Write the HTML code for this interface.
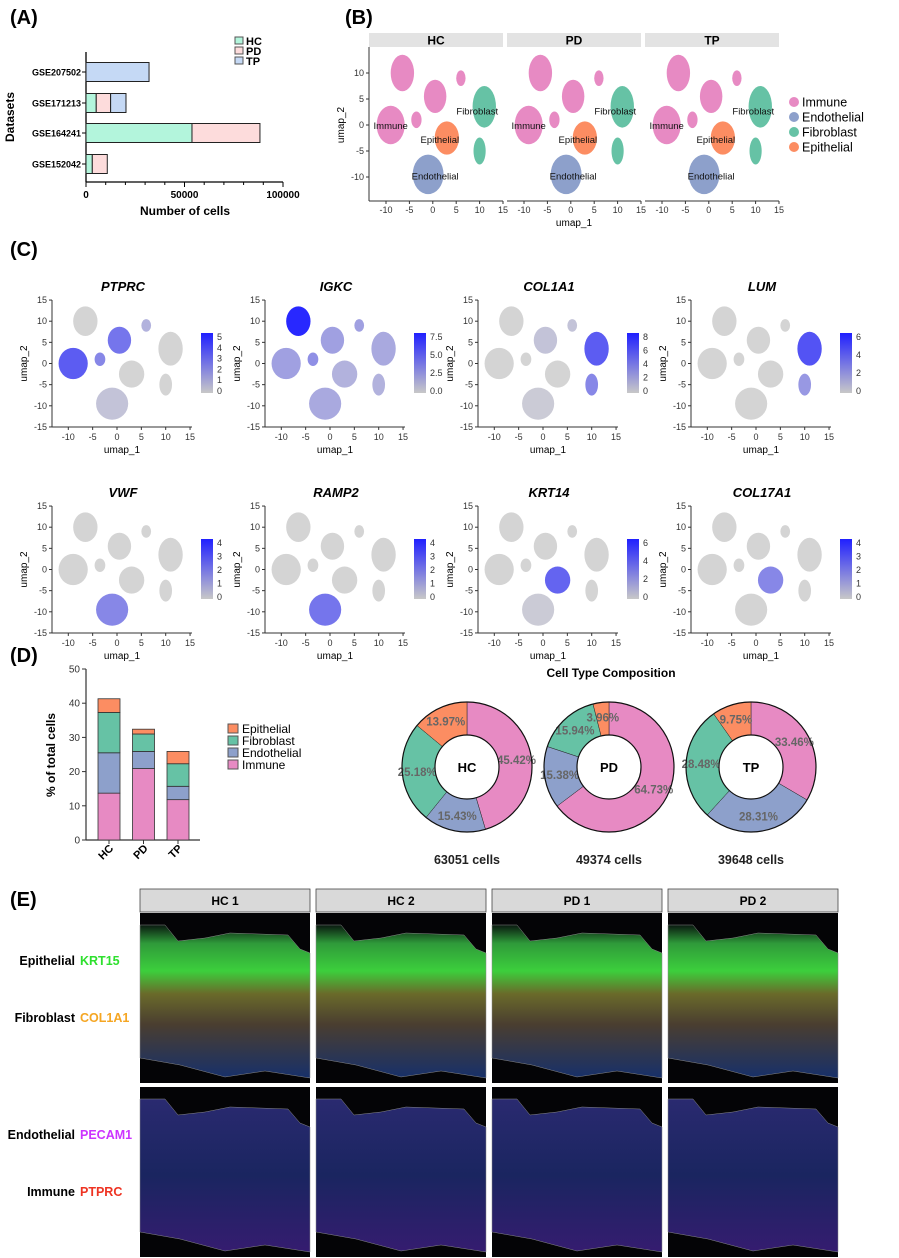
<!DOCTYPE html>
<html><head><meta charset="utf-8">
<style>
body{margin:0;background:#fff;}
svg{display:block;font-family:"Liberation Sans",Arial,sans-serif;}
</style></head>
<body>
<svg id="fig" width="899" height="1258" viewBox="0 0 899 1258" xmlns="http://www.w3.org/2000/svg">
<defs>
<linearGradient id="gTop" x1="0" y1="0" x2="0" y2="1">
<stop offset="0" stop-color="#0a1a10"/><stop offset="0.12" stop-color="#2f9a3a"/><stop offset="0.3" stop-color="#3ccf3c"/><stop offset="0.45" stop-color="#6a6a2a"/><stop offset="0.65" stop-color="#4a3e30"/><stop offset="1" stop-color="#17306a"/></linearGradient>
<linearGradient id="gBot" x1="0" y1="0" x2="0" y2="1">
<stop offset="0" stop-color="#2a2a70"/><stop offset="0.5" stop-color="#1a2560"/><stop offset="1" stop-color="#351c70"/></linearGradient>
</defs>
<g id="panelA"></g>
<g id="panelB"></g>
<g id="panelC"></g>
<g id="panelD"></g>
<g id="panelE"></g>
</svg>
<script>
// ---------- Panel A data ----------
const aDatasets = ["GSE207502","GSE171213","GSE164241","GSE152042"];
const aHC = [0, 5200, 53800, 3200];
const aPD = [0, 7300, 34500, 7600];
const aTP = [32000, 7800, 0, 0];
const aTicks = [0, 50000, 100000];
// ---------- Panel B/C cluster data (umap coords) ----------
const clusterX = [-6.5, -9, 0.5, 6, -3.5, 11, 10, 3, -1];
const clusterY = [10, 0, 5.5, 9, 1, 3.5, -5, -2.5, -9.5];
const clusterRX = [2.5, 3, 2.4, 1, 1.1, 2.5, 1.3, 2.6, 3.3];
const clusterRY = [3.5, 3.7, 3.2, 1.5, 1.6, 4, 2.6, 3.2, 3.8];
const clusterType = [0, 0, 0, 0, 0, 2, 2, 3, 1];
const typeNames = ["Immune","Endothelial","Fibroblast","Epithelial"];
const bFacets = ["HC","PD","TP"];
const bXTicks = [-10,-5,0,5,10,15];
const bYTicks = [-10,-5,0,5,10];
// ---------- Panel C data ----------
const genes = ["PTPRC","IGKC","COL1A1","LUM","VWF","RAMP2","KRT14","COL17A1"];
const geneExpr = [
 [0,0.7,0.55,0.2,0.45,0,0,0,0.1],
 [1,0.3,0.3,0.3,0.4,0.25,0.2,0.2,0.25],
 [0,0,0.1,0.1,0,0.7,0.45,0,0.05],
 [0,0,0,0,0,0.75,0.35,0,0],
 [0,0,0,0,0,0,0,0,0.45],
 [0,0,0,0,0,0,0,0,0.55],
 [0,0,0,0,0,0,0,0.65,0.05],
 [0,0,0,0,0,0,0,0.45,0]];
const geneScaleTicks = [
 ["0","1","2","3","4","5"],["0.0","2.5","5.0","7.5"],["0","2","4","6","8"],["0","2","4","6"],
 ["0","1","2","3","4"],["0","1","2","3","4"],["0","2","4","6"],["0","1","2","3","4"]];
const cXTicks = [-10,-5,0,5,10,15];
const cYTicks = [-15,-10,-5,0,5,10,15];
// ---------- Panel D data ----------
const dGroups = ["HC","PD","TP"];
const dImmune = [13.7, 20.9, 11.8];
const dEndo = [11.8, 5.0, 3.9];
const dFib = [11.8, 5.1, 6.6];
const dEpi = [4.0, 1.4, 3.6];
const dYTicks = [0,10,20,30,40,50];
const pieImmune = [45.42, 64.73, 33.46];
const pieEndo = [15.43, 15.38, 28.31];
const pieFib = [25.18, 15.94, 28.48];
const pieEpi = [13.97, 3.96, 9.75];
const pieCells = ["63051 cells","49374  cells","39648  cells"];
// ---------- Panel E ----------
const eSamples = ["HC 1","HC 2","PD 1","PD 2"];

const NS="http://www.w3.org/2000/svg";
const typeColors = ["#e78ac3","#8da0cb","#66c2a5","#fc8d62"];
function mk(tag, attrs, parent, text){
  const e=document.createElementNS(NS,tag);
  for(const k in attrs) e.setAttribute(k,attrs[k]);
  if(text!==undefined) e.textContent=text;
  parent.appendChild(e); return e;
}

// ===== Panel A =====
(function(){
  const g=document.getElementById('panelA');
  const t=mk('text',{x:10,y:24,'font-size':20,'font-weight':'bold'},g,'(A)');
   
  const x0=86, x1=283, xs=v=>x0+(v/100000)*(x1-x0);
  const rowY=[72,103,133,164];
  mk('line',{x1:x0,y1:52,x2:x0,y2:182,stroke:'#000','stroke-width':1.3},g);
  mk('line',{x1:x0,y1:182,x2:x1,y2:182,stroke:'#000','stroke-width':1.3},g);
  for(let i=0;i<=10;i++){const v=i*10000;mk('line',{x1:xs(v),y1:182,x2:xs(v),y2:i%5==0?187:185,stroke:'#000'},g);}
  aTicks.forEach(v=>{mk('text',{x:xs(v),y:198,'font-size':10,'font-weight':'bold','text-anchor':'middle'},g,String(v));});
  const xt=mk('text',{x:185,y:215,'font-size':12,'font-weight':'bold','text-anchor':'middle'},g,'Number of cells');
   
  const yt=mk('text',{x:0,y:0,'font-size':12,'font-weight':'bold','text-anchor':'middle',transform:'translate(14,117) rotate(-90)'},g,'Datasets');
   
  const cols=['#b3f5dc','#fddcdc','#c5d9f5'];
  aDatasets.forEach((d,i)=>{
    const y=rowY[i];
    mk('line',{x1:x0-4,y1:y,x2:x0,y2:y,stroke:'#000'},g);
    mk('text',{x:x0-5,y:y+3.5,'font-size':9,'font-weight':'bold','text-anchor':'end'},g,d);
    let acc=0;
    [aHC[i],aPD[i],aTP[i]].forEach((v,k)=>{
      if(v<=0) return;
      const r=mk('rect',{x:xs(acc),y:y-9.5,width:xs(acc+v)-xs(acc),height:19,fill:cols[k],stroke:'#222','stroke-width':1},g);
      
      
      acc+=v;
    });
  });
  ['HC','PD','TP'].forEach((n,k)=>{
    const y=37+k*10;
    const r=mk('rect',{x:235,y:y,width:8,height:7,fill:cols[k],stroke:'#555'},g);
     
    mk('text',{x:246,y:y+8,'font-size':11,'font-weight':'bold'},g,n);
  });
})();

// ===== UMAP blob drawing =====
function drawBlobs(g, cx0, cy0, sx, sy, colorFn){
  clusterX.forEach((cx,i)=>{
    const e=mk('ellipse',{cx:cx0+cx*sx,cy:cy0-clusterY[i]*sy,rx:clusterRX[i]*sx,ry:clusterRY[i]*sy,fill:colorFn(i)},g);
    
    
  });
}

// ===== Panel B =====
(function(){
  const g=document.getElementById('panelB');
  const t=mk('text',{x:345,y:24,'font-size':20,'font-weight':'bold'},g,'(B)');
   
  const sx=4.68, sy=5.2, cy0=125;
  bFacets.forEach((f,k)=>{
    const left=369+k*138, cx0=left+63.8;
    const s=mk('rect',{x:left,y:33,width:134,height:14,fill:'#e3e3e3'},g);
     
    mk('text',{x:left+67,y:44.5,'font-size':12,'font-weight':'bold','text-anchor':'middle'},g,f);
    drawBlobs(g,cx0,cy0,sx,sy,i=>typeColors[clusterType[i]]);
    mk('line',{x1:left,y1:201,x2:left+134,y2:201,stroke:'#333'},g);
    bXTicks.forEach(v=>{const x=cx0+v*sx;mk('line',{x1:x,y1:201,x2:x,y2:204,stroke:'#333'},g);
      mk('text',{x:x,y:213,'font-size':9,'text-anchor':'middle',fill:'#333'},g,String(v));});
    [['Immune',-9,-0.8],['Fibroblast',9.5,2],['Epithelial',1.5,-3.5],['Endothelial',0.5,-10.5]].forEach(l=>{
      mk('text',{x:cx0+l[1]*sx,y:cy0-l[2]*sy,'font-size':9.5,'text-anchor':'middle',fill:'#111'},g,l[0]);
    });
  });
  mk('line',{x1:369,y1:47,x2:369,y2:201,stroke:'#333'},g);
  bYTicks.forEach(v=>{const y=cy0-v*sy;mk('line',{x1:366,y1:y,x2:369,y2:y,stroke:'#333'},g);
    mk('text',{x:364,y:y+3,'font-size':9,'text-anchor':'end',fill:'#333'},g,String(v));});
  mk('text',{x:0,y:0,'font-size':10,'text-anchor':'middle',transform:'translate(344,125) rotate(-90)'},g,'umap_2');
  mk('text',{x:574,y:226,'font-size':10,'text-anchor':'middle'},g,'umap_1');
  typeNames.forEach((n,k)=>{
    const y=102+k*15;
    const c=mk('circle',{cx:794,cy:y,r:5,fill:typeColors[k]},g);
     
    mk('text',{x:802,y:y+4.5,'font-size':12.5},g,n);
  });
})();

// ===== Panel C =====
(function(){
  const g=document.getElementById('panelC');
  const t=mk('text',{x:10,y:256,'font-size':20,'font-weight':'bold'},g,'(C)');
   
  const sx=4.87, sy=4.23;
  const lerp=(v)=>{const a=[212,212,212],b=[40,40,255];return 'rgb('+a.map((c,i)=>Math.round(c+(b[i]-c)*v)).join(',')+')';};
  genes.forEach((gene,gi)=>{
    const c=gi%4, r=Math.floor(gi/4);
    const ax=52+213*c, cx0=ax+65, cy0=363.5+206*r;
    const sub=mk('g',{},g);
     
    mk('text',{x:ax+71,y:291+206*r,'font-size':13,'font-weight':'bold','font-style':'italic','text-anchor':'middle'},sub,gene);
    drawBlobs(sub,cx0,cy0,sx,sy,i=>lerp(geneExpr[gi][i]));
    const top=cy0-15*sy, bot=cy0+15*sy;
    mk('line',{x1:ax,y1:top,x2:ax,y2:bot,stroke:'#333'},sub);
    mk('line',{x1:ax,y1:bot,x2:ax+140,y2:bot,stroke:'#333'},sub);
    cYTicks.forEach(v=>{const y=cy0-v*sy;mk('line',{x1:ax-3,y1:y,x2:ax,y2:y,stroke:'#333'},sub);
      mk('text',{x:ax-5,y:y+3,'font-size':9,'text-anchor':'end',fill:'#333'},sub,String(v));});
    cXTicks.forEach(v=>{const x=cx0+v*sx;mk('line',{x1:x,y1:bot,x2:x,y2:bot+3,stroke:'#333'},sub);
      mk('text',{x:x,y:bot+13,'font-size':9,'text-anchor':'middle',fill:'#333'},sub,String(v));});
    mk('text',{x:0,y:0,'font-size':10,'text-anchor':'middle',transform:'translate('+(ax-25)+','+cy0+') rotate(-90)'},sub,'umap_2');
    mk('text',{x:ax+70,y:bot+26,'font-size':10,'text-anchor':'middle'},sub,'umap_1');
    const gid='cb'+gi;
    const lg=mk('linearGradient',{id:gid,x1:0,y1:1,x2:0,y2:0},document.querySelector('defs'));
    mk('stop',{offset:0,'stop-color':'#c8c8c8'},lg);mk('stop',{offset:1,'stop-color':'#2020ff'},lg);
    const cbTop=333+206*r, cbH=60;
    const cb=mk('rect',{x:ax+149,y:cbTop,width:12,height:cbH,fill:'url(#'+gid+')'},sub);
     
    const tk=geneScaleTicks[gi], n=tk.length;
    tk.forEach((s,k)=>{const y=cbTop+cbH-2-k*((cbH-6)/(n-1));
      mk('text',{x:ax+165,y:y+3,'font-size':9,fill:'#333'},sub,s);});
  });
})();

// ===== Panel D =====
(function(){
  const g=document.getElementById('panelD');
  const t=mk('text',{x:10,y:662,'font-size':20,'font-weight':'bold'},g,'(D)');
   
  const y0=840, ys=v=>y0-v*3.42, ax=86;
  mk('line',{x1:ax,y1:ys(50),x2:ax,y2:y0,stroke:'#333','stroke-width':1.2},g);
  mk('line',{x1:ax,y1:y0,x2:200,y2:y0,stroke:'#333','stroke-width':1.2},g);
  dYTicks.forEach(v=>{mk('line',{x1:ax-4,y1:ys(v),x2:ax,y2:ys(v),stroke:'#333'},g);
    mk('text',{x:ax-6,y:ys(v)+3.5,'font-size':10,'text-anchor':'end',fill:'#333'},g,String(v));});
  mk('text',{x:0,y:0,'font-size':12,'font-weight':'bold','text-anchor':'middle',transform:'translate(55,755) rotate(-90)'},g,'% of total cells');
  const order=[[dImmune,0],[dEndo,1],[dFib,2],[dEpi,3]];
  dGroups.forEach((grp,i)=>{
    const x=98+i*34.5; let acc=0;
    order.forEach(([arr,tIdx])=>{
      const v=arr[i];
      const r=mk('rect',{x:x,y:ys(acc+v),width:22,height:ys(acc)-ys(acc+v),fill:typeColors[tIdx],stroke:'#333','stroke-width':0.8},g);
      
      
      acc+=v;
    });
    mk('line',{x1:x+11,y1:y0,x2:x+11,y2:y0+4,stroke:'#333'},g);
    mk('text',{x:0,y:0,'font-size':11,'font-weight':'bold','text-anchor':'end',transform:'translate('+(x+16)+','+(y0+9)+') rotate(-45)'},g,grp);
  });
  [[3,'Epithelial'],[2,'Fibroblast'],[1,'Endothelial'],[0,'Immune']].forEach(([tIdx,n],k)=>{
    const y=724+k*12;
    const r=mk('rect',{x:228,y:y,width:10,height:9,fill:typeColors[tIdx],stroke:'#555'},g);
     
    mk('text',{x:242,y:y+9,'font-size':12},g,n);
  });
  mk('text',{x:611,y:677,'font-size':12,'font-weight':'bold','text-anchor':'middle'},g,'Cell Type Composition');
  const centers=[467,609,751], cy=767, R=65, r0=32;
  dGroups.forEach((grp,i)=>{
    const cx=centers[i];
    const vals=[[pieImmune[i],0],[pieEndo[i],1],[pieFib[i],2],[pieEpi[i],3]];
    const tot=vals.reduce((s,v)=>s+v[0],0);
    let a=0;
    vals.forEach(([v,tIdx])=>{
      const a0=a/tot*2*Math.PI, a1=(a+v)/tot*2*Math.PI; a+=v;
      const p=(ang,rr)=>[cx+rr*Math.sin(ang), cy-rr*Math.cos(ang)];
      const [x1,y1]=p(a0,R),[x2,y2]=p(a1,R),[x3,y3]=p(a1,r0),[x4,y4]=p(a0,r0);
      const lg=(a1-a0)>Math.PI?1:0;
      const d='M'+x1+' '+y1+' A'+R+' '+R+' 0 '+lg+' 1 '+x2+' '+y2+' L'+x3+' '+y3+' A'+r0+' '+r0+' 0 '+lg+' 0 '+x4+' '+y4+' Z';
      const s=mk('path',{d:d,fill:typeColors[tIdx],stroke:'#222','stroke-width':0.5},g);
      
      
      const [lx,ly]=p((a0+a1)/2,50);
      mk('text',{x:lx,y:ly+4,'font-size':11.5,'font-weight':'bold','text-anchor':'middle',fill:'#666'},g,v.toFixed(2)+'%');
    });
    mk('circle',{cx:cx,cy:cy,r:R,fill:'none',stroke:'#111','stroke-width':1.2},g);
    mk('circle',{cx:cx,cy:cy,r:r0,fill:'#fff',stroke:'#111','stroke-width':1.2},g);
    mk('text',{x:cx,y:cy+5,'font-size':13,'font-weight':'bold','text-anchor':'middle'},g,grp);
    mk('text',{x:cx,y:864,'font-size':12.5,'font-weight':'bold','text-anchor':'middle',fill:'#222'},g,pieCells[i]);
  });
})();

// ===== Panel E =====
(function(){
  const g=document.getElementById('panelE');
  const t=mk('text',{x:10,y:906,'font-size':20,'font-weight':'bold'},g,'(E)');
   
  const shape='0,12 25,12 38,28 65,25 90,20 148,22 160,36 170,40 170,165 125,158 85,164 40,152 0,145';
  eSamples.forEach((s,k)=>{
    const x=140+k*176;
    const st=mk('rect',{x:x,y:889,width:170,height:23,fill:'#d9d9d9',stroke:'#444','stroke-width':0.8},g);
     
    mk('text',{x:x+85,y:905,'font-size':12,'font-weight':'bold','text-anchor':'middle'},g,s);
    [[913,'gTop','top'],[1087,'gBot','bottom']].forEach(([y,grad,nm])=>{
      const im=mk('g',{transform:'translate('+x+','+y+')'},g);
      
      
      mk('rect',{x:0,y:0,width:170,height:170,fill:'#040406'},im);
      mk('polygon',{points:shape,fill:'url(#'+grad+')',stroke:'#888','stroke-width':0.5},im);
    });
  });
  [['Epithelial','KRT15','#2ee02e',965],['Fibroblast','COL1A1','#f5a623',1022],['Endothelial','PECAM1','#cc33ff',1139],['Immune','PTPRC','#ee3322',1196]].forEach(([a,b,c,y])=>{
    mk('text',{x:75,y:y,'font-size':12.5,'font-weight':'bold','text-anchor':'end'},g,a);
    mk('text',{x:80,y:y,'font-size':12.5,'font-weight':'bold',fill:c},g,b);
  });
})();
</script>
</body></html>
